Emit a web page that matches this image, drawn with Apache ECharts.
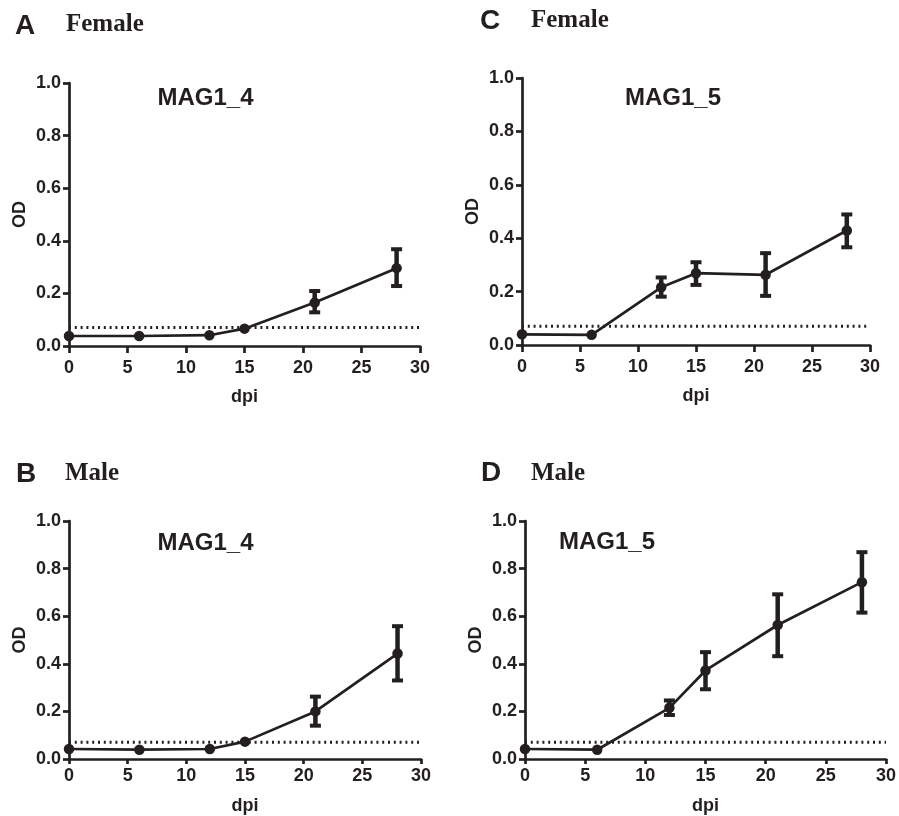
<!DOCTYPE html>
<html>
<head>
<meta charset="utf-8">
<script src="https://cdn.jsdelivr.net/npm/echarts@6/dist/echarts.min.js"></script>
<style>
  html, body { margin: 0; padding: 0; background: #ffffff; }
  #chart { width: 899px; height: 816px; }
</style>
</head>
<body>
<div id="chart"></div>
<script>
// ---------------- data ----------------
const days = [0, 6, 12, 15, 21, 28];
const xTicks = [0, 5, 10, 15, 20, 25, 30];
const yTicks = [0.0, 0.2, 0.4, 0.6, 0.8, 1.0];
const cutoffX = [0, 30];
const cutoffY = [0.07, 0.07];

// Panel A: Female, MAG1_4
const femaleMag14Mean = [0.038, 0.038, 0.041, 0.066, 0.165, 0.296];
const femaleMag14Hi   = [null, null, null, null, 0.209, 0.368];
const femaleMag14Lo   = [null, null, null, null, 0.128, 0.228];
// Panel C: Female, MAG1_5
const femaleMag15Mean = [0.040, 0.038, 0.216, 0.269, 0.263, 0.429];
const femaleMag15Hi   = [null, null, 0.253, 0.310, 0.344, 0.489];
const femaleMag15Lo   = [null, null, 0.181, 0.225, 0.184, 0.366];
// Panel B: Male, MAG1_4
const maleMag14Mean = [0.042, 0.039, 0.042, 0.073, 0.200, 0.443];
const maleMag14Hi   = [null, null, null, null, 0.262, 0.558];
const maleMag14Lo   = [null, null, null, null, 0.140, 0.330];
// Panel D: Male, MAG1_5
const maleMag15Mean = [0.042, 0.039, 0.215, 0.372, 0.563, 0.743];
const maleMag15Hi   = [null, null, 0.246, 0.449, 0.692, 0.869];
const maleMag15Lo   = [null, null, 0.185, 0.293, 0.432, 0.615];

const panelLetters = ['A', 'C', 'B', 'D'];
const panelSex = ['Female', 'Female', 'Male', 'Male'];
const panelTitles = ['MAG1_4', 'MAG1_5', 'MAG1_4', 'MAG1_5'];
const xAxisName = 'dpi';
const yAxisName = 'OD';

// ---------------- layout / style ----------------
const INK = '#231f20';
const SANS = 'Liberation Sans, Arial, Helvetica, sans-serif';
const SERIF = 'Liberation Serif, Times New Roman, serif';

const panels = [
  { mean: femaleMag14Mean, hi: femaleMag14Hi, lo: femaleMag14Lo,
    grid: { left: 69, top: 83, width: 351, height: 263 },
    labelMargin: 13, nameGap: 42, tickLen: 7,
    letterPos: [15, 26], sexPos: [66, 25], titlePos: [205.5, 98] },
  { mean: femaleMag15Mean, hi: femaleMag15Hi, lo: femaleMag15Lo,
    grid: { left: 522, top: 78, width: 348, height: 267 },
    labelMargin: 13, nameGap: 42, tickLen: 7,
    letterPos: [480, 21.5], sexPos: [531, 21], titlePos: [673, 98] },
  { mean: maleMag14Mean, hi: maleMag14Hi, lo: maleMag14Lo,
    grid: { left: 69, top: 521, width: 352, height: 241 },
    labelMargin: 8, nameGap: 38, tickLen: 5,
    letterPos: [16, 474], sexPos: [65, 474], titlePos: [205.5, 543] },
  { mean: maleMag15Mean, hi: maleMag15Hi, lo: maleMag15Lo,
    grid: { left: 525, top: 521, width: 362, height: 240 },
    labelMargin: 8, nameGap: 38, tickLen: 5,
    letterPos: [481, 473], sexPos: [531, 474], titlePos: [607, 542] }
];

const grids = [], xAxes = [], yAxes = [], series = [], graphics = [];

function errorBarRender(params, api) {
  const x = api.value(0), lo = api.value(1), hi = api.value(2);
  const pLo = api.coord([x, lo]);
  const pHi = api.coord([x, hi]);
  const hw = 5.5;
  const vst = { stroke: INK, lineWidth: 4.5, lineCap: 'butt' };
  const cst = { stroke: INK, lineWidth: 4, lineCap: 'butt' };
  return {
    type: 'group',
    children: [
      { type: 'line', shape: { x1: pLo[0], y1: pLo[1], x2: pHi[0], y2: pHi[1] }, style: vst },
      { type: 'line', shape: { x1: pHi[0] - hw, y1: pHi[1], x2: pHi[0] + hw, y2: pHi[1] }, style: cst },
      { type: 'line', shape: { x1: pLo[0] - hw, y1: pLo[1], x2: pLo[0] + hw, y2: pLo[1] }, style: cst }
    ]
  };
}

panels.forEach((p, i) => {
  grids.push(Object.assign({ containLabel: false }, p.grid));
  xAxes.push({
    type: 'value', gridIndex: i,
    min: xTicks[0], max: xTicks[xTicks.length - 1], interval: xTicks[1] - xTicks[0],
    axisLine: { show: true, onZero: false, lineStyle: { color: INK, width: 2.7 } },
    axisTick: { show: true, length: p.tickLen, lineStyle: { color: INK, width: 2.7 } },
    axisLabel: { fontSize: 18, fontWeight: 'bold', color: INK, fontFamily: SANS, margin: p.labelMargin },
    splitLine: { show: false },
    name: xAxisName, nameLocation: 'middle', nameGap: p.nameGap,
    nameTextStyle: { fontSize: 18, fontWeight: 'bold', color: INK, fontFamily: SANS }
  });
  yAxes.push({
    type: 'value', gridIndex: i,
    min: yTicks[0], max: yTicks[yTicks.length - 1], interval: 0.2,
    axisLine: { show: true, onZero: false, lineStyle: { color: INK, width: 2.7 } },
    axisTick: { show: true, length: 6, lineStyle: { color: INK, width: 2.7 } },
    axisLabel: { fontSize: 18, fontWeight: 'bold', color: INK, fontFamily: SANS, margin: 8,
                 formatter: v => Number(v).toFixed(1) },
    splitLine: { show: false },
    name: yAxisName, nameLocation: 'middle', nameGap: 40, nameRotate: 90,
    nameTextStyle: { fontSize: 18, fontWeight: 'bold', color: INK, fontFamily: SANS }
  });
  // dotted cutoff line
  series.push({
    type: 'line', xAxisIndex: i, yAxisIndex: i, z: 1,
    data: cutoffX.map((x, k) => [x, cutoffY[k]]),
    symbol: 'none', silent: true,
    lineStyle: { color: INK, width: 3, type: [2, 3.8] }
  });
  // error bars
  series.push({
    type: 'custom', xAxisIndex: i, yAxisIndex: i, z: 2,
    renderItem: errorBarRender,
    encode: { x: 0, y: [1, 2] },
    data: days.map((d, k) => [d, p.lo[k], p.hi[k]]).filter(r => r[1] != null)
  });
  // mean line with markers
  series.push({
    type: 'line', xAxisIndex: i, yAxisIndex: i, z: 3,
    data: days.map((d, k) => [d, p.mean[k]]),
    symbol: 'circle', symbolSize: 10.5, showSymbol: true,
    itemStyle: { color: INK },
    lineStyle: { color: INK, width: 2.7 }
  });
  // texts
  graphics.push({
    type: 'text', x: p.letterPos[0], y: p.letterPos[1],
    style: { text: panelLetters[i], fill: INK, font: 'bold 28px ' + SANS,
             textAlign: 'left', textVerticalAlign: 'middle' }
  });
  graphics.push({
    type: 'text', x: p.sexPos[0], y: p.sexPos[1],
    style: { text: panelSex[i], fill: INK, font: 'bold 25px ' + SERIF,
             textAlign: 'left', textVerticalAlign: 'middle' }
  });
  graphics.push({
    type: 'text', x: p.titlePos[0], y: p.titlePos[1],
    style: { text: panelTitles[i], fill: INK, font: 'bold 24px ' + SANS,
             textAlign: 'center', textVerticalAlign: 'middle' }
  });
});

const chart = echarts.init(document.getElementById('chart'), null, { renderer: 'canvas' });
chart.setOption({
  backgroundColor: '#ffffff',
  animation: false,
  grid: grids,
  xAxis: xAxes,
  yAxis: yAxes,
  series: series,
  graphic: graphics
});
</script>
</body>
</html>
